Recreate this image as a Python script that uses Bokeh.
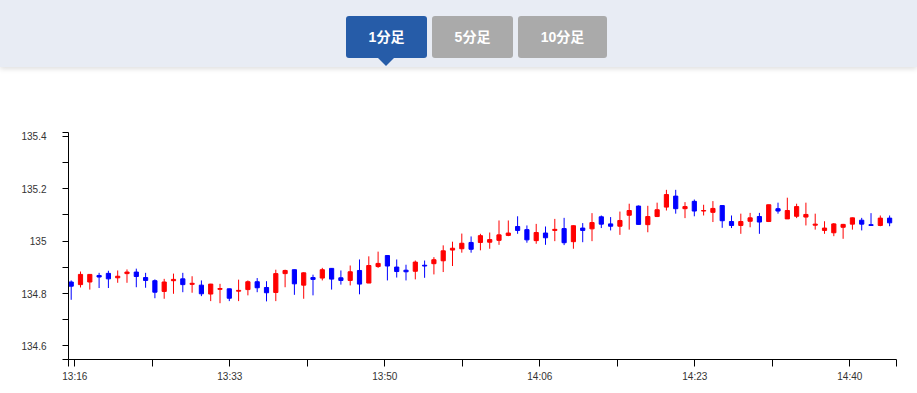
from bokeh.plotting import figure
from bokeh.models import ColumnDataSource, Range1d, FixedTicker, CustomJSTickFormatter, Div
from bokeh.layouts import column
from bokeh.embed import file_html
from bokeh.resources import INLINE

# ---- data (1-minute candles, 13:16 .. 14:44) ----
opens = [134.844, 134.834, 134.844, 134.869, 134.877, 134.860, 134.876, 134.882, 134.861, 134.849,
         134.808, 134.849, 134.856, 134.835, 134.832, 134.798, 134.816, 134.818, 134.809, 134.815,
         134.845, 134.823, 134.804, 134.876, 134.891, 134.832, 134.861, 134.859, 134.896, 134.860,
         134.850, 134.888, 134.840, 134.903, 134.945, 134.901, 134.889, 134.885, 134.908, 134.914,
         134.925, 134.966, 134.971, 134.995, 134.995, 134.996, 135.003, 135.022, 135.056, 135.044,
         135.002, 135.031, 135.041, 135.048, 134.998, 135.050, 135.047, 135.093, 135.066, 135.057,
         135.099, 135.134, 135.063, 135.094, 135.130, 135.172, 135.124, 135.152, 135.115, 135.110,
         135.136, 135.075, 135.060, 135.076, 135.094, 135.075, 135.124, 135.085, 135.095, 135.092,
         135.061, 135.041, 135.032, 135.053, 135.065, 135.080, 135.063, 135.060, 135.088]
highs = [134.850, 134.884, 134.873, 134.879, 134.887, 134.888, 134.892, 134.895, 134.879, 134.854,
         134.856, 134.876, 134.879, 134.866, 134.850, 134.837, 134.837, 134.818, 134.853, 134.850,
         134.859, 134.847, 134.891, 134.891, 134.891, 134.881, 134.872, 134.898, 134.896, 134.888,
         134.907, 134.930, 134.942, 134.960, 134.945, 134.930, 134.910, 134.926, 134.926, 134.939,
         134.984, 134.998, 135.029, 135.018, 135.028, 135.033, 135.079, 135.079, 135.095, 135.060,
         135.066, 135.056, 135.085, 135.089, 135.060, 135.069, 135.107, 135.098, 135.092, 135.113,
         135.143, 135.136, 135.135, 135.147, 135.196, 135.196, 135.149, 135.159, 135.139, 135.153,
         135.136, 135.098, 135.105, 135.108, 135.108, 135.139, 135.147, 135.166, 135.143, 135.147,
         135.105, 135.076, 135.069, 135.066, 135.090, 135.089, 135.107, 135.098, 135.098]
lows = [134.776, 134.823, 134.815, 134.821, 134.821, 134.841, 134.841, 134.824, 134.822, 134.782,
        134.780, 134.799, 134.805, 134.803, 134.790, 134.771, 134.763, 134.771, 134.771, 134.793,
        134.805, 134.770, 134.771, 134.824, 134.795, 134.780, 134.793, 134.850, 134.815, 134.834,
        134.831, 134.797, 134.840, 134.898, 134.850, 134.861, 134.850, 134.854, 134.860, 134.873,
        134.882, 134.905, 134.956, 134.956, 134.965, 134.971, 134.986, 135.019, 135.028, 134.994,
        134.990, 134.986, 135.000, 134.985, 134.971, 134.996, 135.000, 135.050, 135.041, 135.024,
        135.044, 135.064, 135.034, 135.092, 135.117, 135.105, 135.088, 135.095, 135.098, 135.073,
        135.051, 135.050, 135.028, 135.053, 135.028, 135.073, 135.105, 135.085, 135.088, 135.060,
        135.044, 135.028, 135.019, 135.009, 135.044, 135.041, 135.060, 135.057, 135.057]
closes = [134.828, 134.873, 134.873, 134.863, 134.856, 134.866, 134.882, 134.865, 134.850, 134.805,
          134.844, 134.854, 134.834, 134.839, 134.799, 134.836, 134.819, 134.782, 134.812, 134.845,
          134.822, 134.803, 134.876, 134.888, 134.837, 134.879, 134.854, 134.891, 134.855, 134.850,
          134.883, 134.836, 134.907, 134.915, 134.905, 134.884, 134.883, 134.920, 134.905, 134.929,
          134.963, 134.973, 134.992, 134.969, 135.021, 135.006, 135.024, 135.031, 135.041, 135.005,
          135.033, 135.013, 135.045, 134.994, 135.059, 135.041, 135.071, 135.065, 135.057, 135.079,
          135.117, 135.064, 135.094, 135.120, 135.178, 135.124, 135.132, 135.115, 135.117, 135.125,
          135.078, 135.060, 135.075, 135.089, 135.073, 135.139, 135.115, 135.117, 135.132, 135.102,
          135.065, 135.050, 135.066, 135.064, 135.089, 135.065, 135.060, 135.088, 135.070]

x_tick_labels = ["13:16", "", "13:33", "", "13:50", "", "14:06", "", "14:23", "", "14:40"]
y_tick_values = [134.6, 134.7, 134.8, 134.9, 135.0, 135.1, 135.2, 135.3, 135.4]
y_tick_labels = ["134.6", "", "134.8", "", "135", "", "135.2", "", "135.4"]
buttons = ["1分足", "5分足", "10分足"]

UP = "#ff0000"
DOWN = "#0000ff"
ACTIVE = "#265ca8"
INACTIVE = "#aaaaaa"
HEAD_BG = "#e8ecf4"

W = 917
HEAD_H = 75
CHART_H = 310

# ---- header with period buttons (HTML) ----
btn_left = [346, 432, 518]
btn_width = [81, 81, 89]
btn_colors = [ACTIVE, INACTIVE, INACTIVE]
parts = [f'<div style="position:relative;width:{W}px;height:{HEAD_H}px;overflow:hidden;background:#fff;">',
         f'<div style="position:absolute;left:0;top:0;width:{W}px;height:67px;background:{HEAD_BG};'
         'box-shadow:0 2px 5px rgba(0,0,0,0.13);"></div>']
for lbl, l, w, c in zip(buttons, btn_left, btn_width, btn_colors):
    parts.append(
        f'<div style="position:absolute;left:{l}px;top:16px;width:{w}px;height:42px;background:{c};'
        'border-radius:3px;color:#fff;font-weight:bold;font-size:14px;'
        "font-family:'Liberation Sans','Noto Sans CJK JP',sans-serif;display:flex;"
        f'align-items:center;justify-content:center;">{lbl}</div>')
tri_x = btn_left[0] + btn_width[0] / 2 - 9.5
parts.append(f'<div style="position:absolute;left:{tri_x}px;top:57px;width:0;height:0;'
             'border-left:9.5px solid transparent;border-right:9.5px solid transparent;'
             f'border-top:9.5px solid {ACTIVE};"></div>')
parts.append('</div>')
head = Div(text="".join(parts), width=W, height=HEAD_H, margin=0)

# ---- candlestick chart ----
n = len(opens)
idx = list(range(n))
src = ColumnDataSource(dict(
    x=idx, open=opens, high=highs, low=lows, close=closes,
    top=[max(o, c) for o, c in zip(opens, closes)],
    bottom=[min(o, c) for o, c in zip(opens, closes)],
    color=[UP if c >= o else DOWN for o, c in zip(opens, closes)],
))

x0, x1 = -0.29, 88.74
y0, y1 = 134.548, 135.415
p = figure(width=W, height=CHART_H, x_range=Range1d(x0, x1), y_range=Range1d(y0, y1),
           toolbar_location=None, output_backend="svg",
           min_border_left=68, min_border_right=21, min_border_top=57, min_border_bottom=26,
           outline_line_color=None, background_fill_color="white")
p.grid.visible = False

p.segment(x0="x", y0="low", x1="x", y1="high", line_color="color", line_width=1, source=src)
p.vbar(x="x", width=0.45, top="top", bottom="bottom", fill_color="color", line_color="color",
       line_width=1, source=src)

first_tick, step = 0.387, 25 / 3
x_ticks = [first_tick + k * step for k in range(len(x_tick_labels))]
x_all = [x0 + 0.005] + x_ticks + [x1 - 0.005]
x_lab = [""] + x_tick_labels + [""]
p.xaxis.ticker = FixedTicker(ticks=x_all, minor_ticks=[])
p.xaxis.formatter = CustomJSTickFormatter(args=dict(tvals=x_all, labs=x_lab), code="""
for (let j = 0; j < tvals.length; j++) { if (Math.abs(tvals[j] - tick) < 1e-6) return labs[j]; }
return '';
""")
y_all = [y0 + 0.0005] + y_tick_values + [y1 - 0.0005]
y_lab = [""] + y_tick_labels + [""]
p.yaxis.ticker = FixedTicker(ticks=y_all, minor_ticks=[])
p.yaxis.formatter = CustomJSTickFormatter(args=dict(tvals=y_all, labs=y_lab), code="""
for (let j = 0; j < tvals.length; j++) { if (Math.abs(tvals[j] - tick) < 1e-6) return labs[j]; }
return '';
""")

for a in (p.xaxis[0], p.yaxis[0]):
    a.axis_line_color = "black"
    a.axis_line_width = 1
    a.major_tick_line_color = "black"
    a.major_tick_in = 0
    a.minor_tick_line_color = None
    a.major_label_text_font = "Liberation Sans"
    a.major_label_text_font_size = "10px"
    a.major_label_text_color = "#333333"
p.xaxis.major_tick_out = 7
p.xaxis.major_label_standoff = 4
p.yaxis.major_tick_out = 6
p.yaxis.major_label_standoff = 16

lay = column(head, p, spacing=0)

open("out.html", "w", encoding="utf-8").write(file_html(lay, INLINE))
